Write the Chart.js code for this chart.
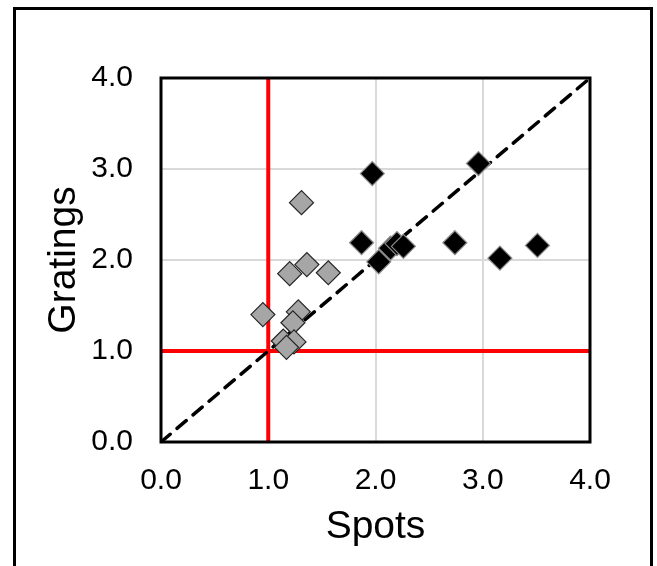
<!DOCTYPE html>
<html>
<head>
<meta charset="utf-8">
<script src="https://cdn.jsdelivr.net/npm/chart.js@4"></script>
<style>
  html, body { margin: 0; padding: 0; background: #fff; }
  #wrap { width: 657px; height: 566px; }
</style>
</head>
<body>
<div id="wrap"><canvas id="chart" width="657" height="566"></canvas></div>
<script>
// --- data ---
const grayX = [0.95, 1.20, 1.31, 1.36, 1.56, 1.28, 1.23, 1.14, 1.24, 1.17];
const grayY = [1.40, 1.85, 2.63, 1.95, 1.86, 1.43, 1.31, 1.11, 1.10, 1.04];

const blackX = [1.97, 2.96, 1.87, 2.03, 2.14, 2.20, 2.26, 2.74, 3.16, 3.51];
const blackY = [2.95, 3.06, 2.19, 1.98, 2.13, 2.18, 2.15, 2.19, 2.02, 2.16];

const diagX = [0, 4];
const diagY = [0, 4];
const refVertX = [1, 1];
const refVertY = [0, 4];
const refHorX = [0, 4];
const refHorY = [1, 1];

const tickValues = [0, 1, 2, 3, 4];

function pts(xs, ys) {
    return xs.map((x, i) => ({ x: x, y: ys[i] }));
}

const FONT = '"Liberation Sans", Arial, sans-serif';

// outer frame + plot border
const framePlugin = {
    id: 'frame',
    beforeDraw(chart) {
        const ctx = chart.ctx;
        ctx.save();
        ctx.fillStyle = '#fff';
        ctx.fillRect(0, 0, chart.width, chart.height);
        ctx.strokeStyle = '#000';
        ctx.lineWidth = 3;
        ctx.strokeRect(14.5, 8.5, 637, 600);
        ctx.restore();
    },
    afterDatasetsDraw(chart) {
        const a = chart.chartArea;
        const ctx = chart.ctx;
        ctx.save();
        ctx.strokeStyle = '#000';
        ctx.lineWidth = 3;
        ctx.strokeRect(a.left, a.top, a.right - a.left, a.bottom - a.top);
        ctx.restore();
    }
};

new Chart(document.getElementById('chart'), {
    type: 'scatter',
    data: {
        datasets: [
            {
                label: 'gray',
                data: pts(grayX, grayY),
                pointStyle: 'rectRot',
                pointRadius: 12,
                backgroundColor: '#a6a6a6',
                borderColor: '#262626',
                borderWidth: 1.2,
                order: 0
            },
            {
                label: 'black',
                data: pts(blackX, blackY),
                pointStyle: 'rectRot',
                pointRadius: 12,
                backgroundColor: '#000',
                borderColor: '#8c8c8c',
                borderWidth: 1.2,
                order: 1
            },
            {
                type: 'line',
                label: 'diag',
                data: pts(diagX, diagY),
                borderColor: '#000',
                borderWidth: 3.5,
                borderDash: [12, 9],
                borderCapStyle: 'round',
                pointRadius: 0,
                fill: false,
                order: 2
            },
            {
                type: 'line',
                label: 'v',
                data: pts(refVertX, refVertY),
                borderColor: '#ff0000',
                borderWidth: 4,
                pointRadius: 0,
                fill: false,
                order: 3
            },
            {
                type: 'line',
                label: 'h',
                data: pts(refHorX, refHorY),
                borderColor: '#ff0000',
                borderWidth: 4,
                pointRadius: 0,
                fill: false,
                order: 3
            }
        ]
    },
    options: {
        responsive: false,
        animation: false,
        events: [],
        layout: { padding: { left: 0, top: 78, right: 67, bottom: 0 } },
        plugins: {
            legend: { display: false },
            tooltip: { enabled: false }
        },
        scales: {
            x: {
                type: 'linear',
                min: 0,
                max: 4,
                afterFit(scale) { scale.height = 124; },
                afterBuildTicks(scale) { scale.ticks = tickValues.map(v => ({ value: v })); },
                grid: { color: '#d9d9d9', lineWidth: 2, drawTicks: false },
                border: { display: false },
                ticks: {
                    color: '#000',
                    padding: 21,
                    maxRotation: 0,
                    font: { family: FONT, size: 30 },
                    callback: v => v.toFixed(1)
                },
                title: {
                    display: true,
                    text: 'Spots',
                    color: '#000',
                    font: { family: FONT, size: 39 },
                    padding: { top: 0, bottom: 15 }
                }
            },
            y: {
                type: 'linear',
                min: 0,
                max: 4,
                afterFit(scale) { scale.width = 161; },
                afterBuildTicks(scale) { scale.ticks = tickValues.map(v => ({ value: v })); },
                grid: { color: '#d9d9d9', lineWidth: 2, drawTicks: false },
                border: { display: false },
                ticks: {
                    color: '#000',
                    padding: 28,
                    font: { family: FONT, size: 30 },
                    callback: v => v.toFixed(1)
                },
                title: {
                    display: true,
                    text: 'Gratings',
                    color: '#000',
                    font: { family: FONT, size: 39 },
                    padding: { top: 41, bottom: 0 }
                }
            }
        }
    },
    plugins: [framePlugin]
});
</script>
</body>
</html>
